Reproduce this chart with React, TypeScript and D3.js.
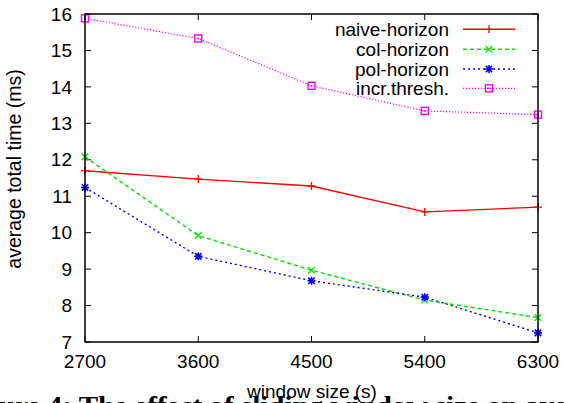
import React from "react";
import * as d3 from "d3";

const windowSizes = [2700, 3600, 4500, 5400, 6300];
const naiveHorizon = [11.7, 11.47, 11.28, 10.57, 10.7];
const colHorizon = [12.08, 9.92, 8.97, 8.15, 7.67];
const polHorizon = [11.24, 9.35, 8.68, 8.23, 7.25];
const incrThresh = [15.88, 15.33, 14.03, 13.34, 13.24];
const yTicks = [7, 8, 9, 10, 11, 12, 13, 14, 15, 16];
const seriesNames = ["naive-horizon", "col-horizon", "pol-horizon", "incr.thresh."];

const W = 564;
const H = 403;
const L = 85, R = 538, T = 14, B = 342;
const FONT = "'Liberation Sans', Arial, Helvetica, sans-serif";

type Marker = "plus" | "cross" | "star" | "square";

const styles: { color: string; dash: string | undefined; width: number; marker: Marker }[] = [
  { color: "#ff0000", dash: undefined, width: 1.4, marker: "plus" },
  { color: "#00e000", dash: "4,3", width: 1.4, marker: "cross" },
  { color: "#0000ff", dash: "2,3", width: 1.4, marker: "star" },
  { color: "#ff00ff", dash: "1.2,1.8", width: 1.2, marker: "square" },
];

function MarkerShape({ type, x, y, color }: { type: Marker; x: number; y: number; color: string }) {
  const s = 4;
  if (type === "plus")
    return <path d={`M${x - s},${y}H${x + s}M${x},${y - s}V${y + s}`} stroke={color} strokeWidth={1.3} fill="none" />;
  if (type === "cross")
    return <path d={`M${x - 3.3},${y - 3.3}L${x + 3.3},${y + 3.3}M${x - 3.3},${y + 3.3}L${x + 3.3},${y - 3.3}`} stroke={color} strokeWidth={1.3} fill="none" />;
  if (type === "star")
    return (
      <path
        d={`M${x - s},${y}H${x + s}M${x},${y - s}V${y + s}M${x - 3.2},${y - 3.2}L${x + 3.2},${y + 3.2}M${x - 3.2},${y + 3.2}L${x + 3.2},${y - 3.2}`}
        stroke={color}
        strokeWidth={1.6}
        fill="none"
      />
    );
  return (
    <g>
      <rect x={x - 3.5} y={y - 3.5} width={7} height={7} stroke={color} strokeWidth={1.4} fill="none" />
      <rect x={x - 0.8} y={y - 0.8} width={1.6} height={1.6} fill={color} />
    </g>
  );
}

export default function App() {
  const x = d3.scaleLinear().domain([2700, 6300]).range([L, R]);
  const y = d3.scaleLinear().domain([7, 16]).range([B, T]);
  const data = [naiveHorizon, colHorizon, polHorizon, incrThresh];
  const line = d3
    .line<number>()
    .x((_, i) => x(windowSizes[i]))
    .y((d) => y(d));
  const tickLen = 6;
  const legendY = [29.3, 49.3, 69, 88.3];

  return (
    <svg width={W} height={H} style={{ position: "absolute", left: 0, top: 0, background: "#fff" }}>
      <rect x={0} y={0} width={W} height={H} fill="#fff" />
      {/* caption (cut off) */}
      <text
        x={-1}
        y={414}
        fontFamily="'Liberation Serif', 'Times New Roman', serif"
        fontWeight="bold"
        fontSize={26}
        textLength={568}
        lengthAdjust="spacingAndGlyphs"
        fill="#000"
      >
        ure 4: The effect of sliding window size on ave
      </text>

      {/* ticks */}
      {yTicks.map((t) => (
        <g key={"y" + t}>
          <line x1={L} x2={L + tickLen} y1={y(t)} y2={y(t)} stroke="#000" strokeWidth={1} />
          <line x1={R} x2={R - tickLen} y1={y(t)} y2={y(t)} stroke="#000" strokeWidth={1} />
          <text x={72} y={y(t)} dy="0.35em" textAnchor="end" fontFamily={FONT} fontSize={19} fill="#000">
            {t}
          </text>
        </g>
      ))}
      {windowSizes.map((t) => (
        <g key={"x" + t}>
          <line x1={x(t)} x2={x(t)} y1={B} y2={B - tickLen} stroke="#000" strokeWidth={1} />
          <line x1={x(t)} x2={x(t)} y1={T} y2={T + tickLen} stroke="#000" strokeWidth={1} />
          <text x={x(t)} y={368} textAnchor="middle" fontFamily={FONT} fontSize={19} fill="#000">
            {t}
          </text>
        </g>
      ))}

      {/* series */}
      {data.map((vals, si) => (
        <g key={"s" + si}>
          <path
            d={line(vals) || ""}
            fill="none"
            stroke={styles[si].color}
            strokeWidth={styles[si].width}
            strokeDasharray={styles[si].dash}
          />
          {vals.map((v, i) => (
            <MarkerShape key={i} type={styles[si].marker} x={x(windowSizes[i])} y={y(v)} color={styles[si].color} />
          ))}
        </g>
      ))}

      {/* legend */}
      {seriesNames.map((name, i) => (
        <g key={"l" + i}>
          <text x={449} y={legendY[i] + 6.5} textAnchor="end" fontFamily={FONT} fontSize={19} fill="#000">
            {name}
          </text>
          <line
            x1={463}
            x2={515}
            y1={legendY[i]}
            y2={legendY[i]}
            stroke={styles[i].color}
            strokeWidth={styles[i].width}
            strokeDasharray={styles[i].dash}
          />
          <MarkerShape type={styles[i].marker} x={489} y={legendY[i]} color={styles[i].color} />
        </g>
      ))}

      {/* frame */}
      <rect x={L} y={T} width={R - L} height={B - T} fill="none" stroke="#000" strokeWidth={1.5} />

      {/* axis labels */}
      <text
        transform={`translate(21,169) rotate(-90)`}
        textAnchor="middle"
        fontFamily={FONT}
        fontSize={19.5}
        fill="#000"
      >
        average total time (ms)
      </text>
      <text x={312} y={398} textAnchor="middle" fontFamily={FONT} fontSize={19} fill="#000">
        window size (s)
      </text>
    </svg>
  );
}
